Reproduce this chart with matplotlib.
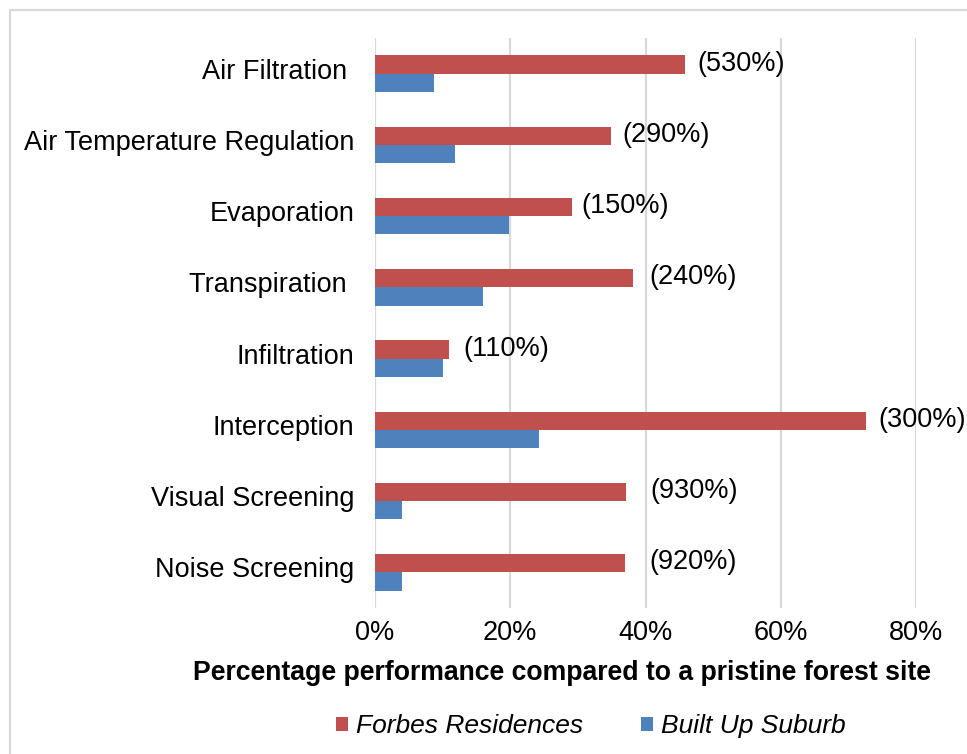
import matplotlib.pyplot as plt
import numpy as np

# Ecosystem services, top to bottom
services = ['Air Filtration ',
            'Air Temperature Regulation',
            'Evaporation',
            'Transpiration ',
            'Infiltration',
            'Interception',
            'Visual Screening',
            'Noise Screening']

# Performance relative to a pristine forest site (%)
forbes = [45.9, 34.9, 29.2, 38.2, 10.95, 72.6, 37.1, 36.9]
suburb = [8.66, 11.85, 19.8, 16.0, 10.0, 24.2, 4.0, 4.0]

# Forbes Residences relative to the built up suburb
ratio_labels = ['(530%)', '(290%)', '(150%)', '(240%)',
                '(110%)', '(300%)', '(930%)', '(920%)']
label_gap = [12, 11, 9, 16, 14, 12, 24, 25]  # pixels right of the bar end

red = '#C0504D'
blue = '#4F81BD'
grid_col = '#d9d9d9'
fs = 19.5

plt.rcParams['font.family'] = ['Liberation Sans', 'DejaVu Sans']

fig = plt.figure(figsize=(9.67, 7.54), dpi=100)
ax = fig.add_axes([375/967, 1-608/754, (916-375)/967, (608-38)/754])

y = np.arange(len(services))
h = 0.255
ax.barh(y - h/2, forbes, height=h, color=red, label='Forbes Residences')
ax.barh(y + h/2, suburb, height=h, color=blue, label='Built Up Suburb')

for i in range(len(services)):
    ax.annotate(ratio_labels[i], xy=(forbes[i], y[i] - h/2),
                xytext=(label_gap[i], 1), textcoords='offset pixels',
                ha='left', va='center', fontsize=fs, annotation_clip=False)

ax.set_xlim(0, 80)
ax.set_ylim(len(services) - 0.5, -0.5)
ax.set_xticks([0, 20, 40, 60, 80])
ax.set_xticklabels(['0%', '20%', '40%', '60%', '80%'])
ax.set_yticks(y)
ax.set_yticklabels(services, va='center')
ax.tick_params(axis='both', length=0, labelsize=fs)
ax.tick_params(axis='y', pad=15)
ax.tick_params(axis='x', pad=9)
# nudge category labels up a touch
for t in ax.get_yticklabels():
    t.set_y(t.get_position()[1])
    t.set_transform(t.get_transform() + plt.matplotlib.transforms.ScaledTranslation(0, 2/100, fig.dpi_scale_trans))

ax.grid(axis='x', color=grid_col, linewidth=1.6)
ax.set_axisbelow(True)
for s in ax.spines.values():
    s.set_visible(False)

fig.text(562/967, 1-673/754, 'Percentage performance compared to a pristine forest site',
         ha='center', va='center', fontsize=19.2, fontweight='bold')

fig.legend(loc='center', bbox_to_anchor=(591/967, 1-726/754), ncol=2, frameon=False,
           prop={'style': 'italic', 'size': 19}, handlelength=0.45, handleheight=0.45,
           handletextpad=0.3, columnspacing=2.2)

# thin frame around the chart area
fig.add_artist(plt.Rectangle((9.5/967, -0.1), 1.2, 1-10/754 + 0.1,
                             transform=fig.transFigure, fill=False,
                             edgecolor='#d9d9d9', linewidth=1.6))

plt.savefig('out.png', dpi=100)
